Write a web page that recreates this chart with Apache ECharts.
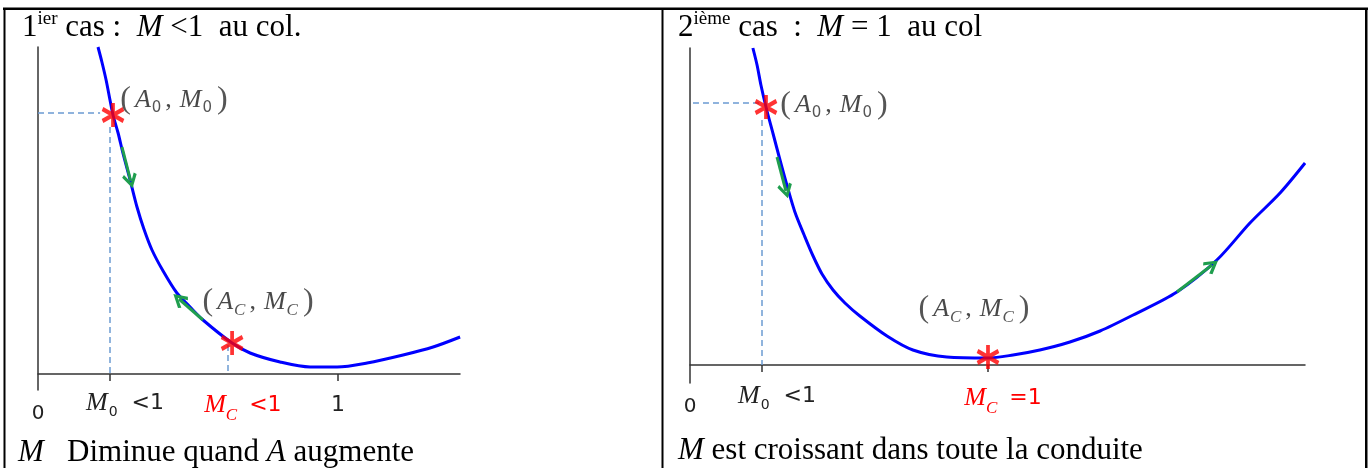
<!DOCTYPE html>
<html>
<head>
<meta charset="utf-8">
<script src="https://cdn.jsdelivr.net/npm/echarts@6/dist/echarts.min.js"></script>
<style>
html,body{margin:0;padding:0;background:#fff;}
#c{width:1372px;height:468px;}
</style>
</head>
<body>
<div id="c"></div>
<script>
// ---------- Panel 1 : M < 1 au col ----------
const curve1X = [0.200,0.213,0.227,0.240,0.250,0.267,0.283,0.307,0.330,0.353,0.380,0.417,0.463,0.507,0.550,0.647,0.707,0.807,0.907,0.997,1.097,1.217,1.317,1.407];
const curve1Y = [3.27,3.12,2.94,2.74,2.59,2.41,2.21,1.94,1.67,1.45,1.24,1.03,0.81,0.67,0.54,0.31,0.21,0.12,0.07,0.07,0.11,0.19,0.27,0.37];
const stars1X = [0.250, 0.647];
const stars1Y = [2.59, 0.31];
const starLabels1 = ['(A_0, M_0)', '(A_C, M_C)'];
const arrows1 = [[[0.280,2.27],[0.309,1.93]], [[0.550,0.54],[0.470,0.75]]];
const dashes1 = [[[0,2.61],[0.207,2.61]], [[0.240,2.47],[0.240,0]], [[0.633,0.29],[0.633,0]]];
const ticks1 = [0.240, 1];
const tickLabelValues1 = [0, 0.240, 0.633, 1];
const tickLabels1 = ['0', 'M_0 <1', 'M_C <1', '1'];

// ---------- Panel 2 : M = 1 au col ----------
const curve2X = [0.211,0.225,0.238,0.255,0.279,0.302,0.326,0.352,0.383,0.413,0.443,0.480,0.520,0.570,0.661,0.748,0.862,1.000,1.084,1.174,1.275,1.376,1.487,1.634,1.768,1.879,1.980,2.064];
const curve2Y = [3.17,3.00,2.80,2.58,2.31,2.05,1.79,1.53,1.30,1.09,0.91,0.75,0.62,0.49,0.29,0.15,0.08,0.07,0.10,0.15,0.23,0.34,0.50,0.73,1.05,1.42,1.72,2.02];
const stars2X = [0.255, 1.000];
const stars2Y = [2.58, 0.08];
const starLabels2 = ['(A_0, M_0)', '(A_C, M_C)'];
const arrows2 = [[[0.292,2.08],[0.322,1.74]], [[1.634,0.73],[1.752,1.00]]];
const dashes2 = [[[0.01,2.62],[0.235,2.62]], [[0.2416,2.45],[0.2416,0]]];
const ticks2 = [0.2416, 1];
const tickLabelValues2 = [0, 0.2416, 1];
const tickLabels2 = ['0', 'M_0 <1', 'M_C =1'];

// ---------- helpers ----------
const pair = (xs, ys) => xs.map((x, i) => [x, ys[i]]);
const BLUE = '#0000ff', GREEN = '#1f9e4e', RED = '#ff0000', DASH = '#6b9bd2', AX = '#333';
const SERIF = 'Liberation Serif', SANS = 'DejaVu Sans';

function tickRich(t) {
  const m = t.match(/^M_(\w)\s*(.*)$/);
  if (!m) return t === '0' ? '{z|0}' : '{o|' + t + '}';
  const r = m[1] === 'C' ? 'r' : '';
  return '{m' + r + '|M}{s' + r + '|' + m[1] + '}{n' + r + '|' + m[2] + '}';
}
function tickRichStyles() {
  const base = (c) => ({
    m: {fontFamily: SERIF, fontStyle: 'italic', fontSize: 26, color: c, padding: [0, 0, 0, 30]},
    s: {fontFamily: SANS, fontSize: 14, color: c, padding: [18, 14, 0, 1]},
    n: {fontFamily: SANS, fontSize: 22, color: c}
  });
  const k = base('#222'), r = base(RED);
  r.s.fontFamily = SERIF; r.s.fontStyle = 'italic'; r.s.fontSize = 17; r.s.padding = [20, 12, 0, 0];
  return {
    m: k.m, s: k.s, n: k.n, mr: r.m, sr: r.s, nr: r.n,
    z: {fontFamily: SANS, fontSize: 20, color: '#222', padding: [17, 0, 0, 0]},
    o: {fontFamily: SANS, fontSize: 22, color: '#222', padding: [7, 0, 0, 0]}
  };
}
function annRich(t) {
  const m = t.match(/^\(A_(\w), M_(\w)\)$/);
  const sub = (v) => v === 'C' ? '{sc|C}' : '{s|' + v + '}';
  return '{p|(}{a|A}' + sub(m[1]) + '{c|,}{b|M}' + sub(m[2]) + '{q|)}';
}
const annStyles = {
  p: {fontFamily: SERIF, fontSize: 32, color: '#2a2a2a', padding: [0, 4, 0, 0]},
  q: {fontFamily: SERIF, fontSize: 32, color: '#2a2a2a', padding: [0, 0, 0, 5]},
  a: {fontFamily: SERIF, fontStyle: 'italic', fontSize: 26, color: '#1a1a1a', padding: [0, 1, 0, 0]},
  b: {fontFamily: SERIF, fontStyle: 'italic', fontSize: 26, color: '#1a1a1a', padding: [0, 1, 0, 0]},
  s: {fontFamily: SANS, fontSize: 15, color: '#2a2a2a', padding: [17, 0, 0, 0]},
  sc: {fontFamily: SERIF, fontStyle: 'italic', fontSize: 17, color: '#2a2a2a', padding: [17, 0, 0, 0]},
  c: {fontFamily: SERIF, fontSize: 26, color: '#1a1a1a', padding: [0, 8, 0, 4]}
};
const STAR = 'path://M0,-10L0,10M-8.66,-5L8.66,5M-8.66,5L8.66,-5';
const CHEVRON = 'path://M6,0L12,9L10,10.6L6,4.2L2,10.6L0,9Z';

function xAxisOf(grid, max, ticks, lvals, labels) {
  return {
    gridIndex: grid, type: 'value', min: 0, max: max,
    axisLine: {show: true, onZero: true, lineStyle: {color: AX, width: 1.5}},
    axisTick: {show: true, customValues: ticks, length: 7, lineStyle: {color: AX, width: 1.5}},
    axisLabel: {
      show: true, customValues: lvals, margin: -3, hideOverlap: false,
      formatter: (v) => {
        let idx = 0, best = 1e9;
        lvals.forEach((lv, i) => { const d = Math.abs(lv - v); if (d < best) { best = d; idx = i; } });
        return tickRich(labels[idx]);
      },
      rich: tickRichStyles()
    },
    splitLine: {show: false}
  };
}
function yAxisOf(grid, min, max) {
  return {
    gridIndex: grid, type: 'value', min: min, max: max,
    axisLine: {show: true, onZero: true, lineStyle: {color: AX, width: 1.5}},
    axisTick: {show: false}, axisLabel: {show: false}, splitLine: {show: false}
  };
}
function panelSeries(k, cx, cy, sx, sy, slabels, offsets, arrows, dashes) {
  return [
    {type: 'lines', coordinateSystem: 'cartesian2d', xAxisIndex: k, yAxisIndex: k, silent: true, z: 1,
     data: dashes.map(d => ({coords: d})), lineStyle: {color: DASH, width: 1.5, type: [6, 4], opacity: 1}},
    {type: 'line', xAxisIndex: k, yAxisIndex: k, data: pair(cx, cy), smooth: 0.3, showSymbol: false,
     silent: true, z: 2, lineStyle: {color: BLUE, width: 3}},
    {type: 'lines', coordinateSystem: 'cartesian2d', xAxisIndex: k, yAxisIndex: k, silent: true, z: 3,
     symbol: ['none', CHEVRON], symbolSize: [17, 15],
     data: arrows.map(a => ({coords: a})), lineStyle: {color: GREEN, width: 3, opacity: 1}},
    {type: 'scatter', xAxisIndex: k, yAxisIndex: k, silent: true, z: 4,
     symbol: STAR, symbolSize: [21, 24],
     itemStyle: {color: RED, borderColor: RED, borderWidth: 4},
     data: pair(sx, sy).map((p, i) => ({
       value: p,
       label: {show: true, position: 'inside', offset: offsets[i], formatter: annRich(slabels[i]), rich: annStyles}
     }))}
  ];
}

const titleRich = {
  n: {fontFamily: SERIF, fontSize: 31, color: '#000'},
  it: {fontFamily: SERIF, fontStyle: 'italic', fontSize: 31, color: '#000'},
  sup: {fontFamily: SERIF, fontSize: 19, color: '#000', padding: [0, 0, 17, 0]}
};
function txt(x, y, text) {
  return {type: 'text', left: x, top: y, silent: true,
          style: {text: text, rich: titleRich, fill: '#000', font: '31px "Liberation Serif"'}};
}
function ln(x1, y1, x2, y2, w) {
  return {type: 'line', silent: true, shape: {x1, y1, x2, y2}, style: {stroke: '#000', lineWidth: w}};
}

const chart = echarts.init(document.getElementById('c'), null, {renderer: 'canvas'});
chart.setOption({
  animation: false,
  backgroundColor: '#fff',
  grid: [
    {left: 38, top: 47, width: 422, height: 343},
    {left: 690, top: 48, width: 615, height: 335}
  ],
  xAxis: [
    xAxisOf(0, 1.4067, ticks1, tickLabelValues1, tickLabels1),
    xAxisOf(1, 2.0638, ticks2, tickLabelValues2, tickLabels2)
  ],
  yAxis: [yAxisOf(0, -0.16, 3.27), yAxisOf(1, -0.18, 3.17)],
  series: [
    ...panelSeries(0, curve1X, curve1Y, stars1X, stars1Y, starLabels1, [[61, -15], [26, -41]], arrows1, dashes1),
    ...panelSeries(1, curve2X, curve2Y, stars2X, stars2Y, starLabels2, [[68, -2], [-14, -48]], arrows2, dashes2)
  ],
  graphic: [
    ln(3, 8.75, 1368, 8.75, 2.5),
    ln(4.5, 8, 4.5, 468, 2),
    ln(662.5, 8, 662.5, 468, 2),
    ln(1366.25, 8, 1366.25, 468, 2.5),
    txt(22, 10, '{n|1}{sup|ier}{n| cas :  }{it|M}{n| <}{n|1}{n|  au col.}'),
    txt(678, 10, '{n|2}{sup|ième}{n| cas  : }{it| M}{n| =}{n| 1}{n|  au col}'),
    txt(18, 437, '{it|M}{n|   Diminue quand }{it|A}{n| augmente}'),
    txt(678, 435, '{it|M}{n| est croissant dans toute la conduite}')
  ]
});
</script>
</body>
</html>
